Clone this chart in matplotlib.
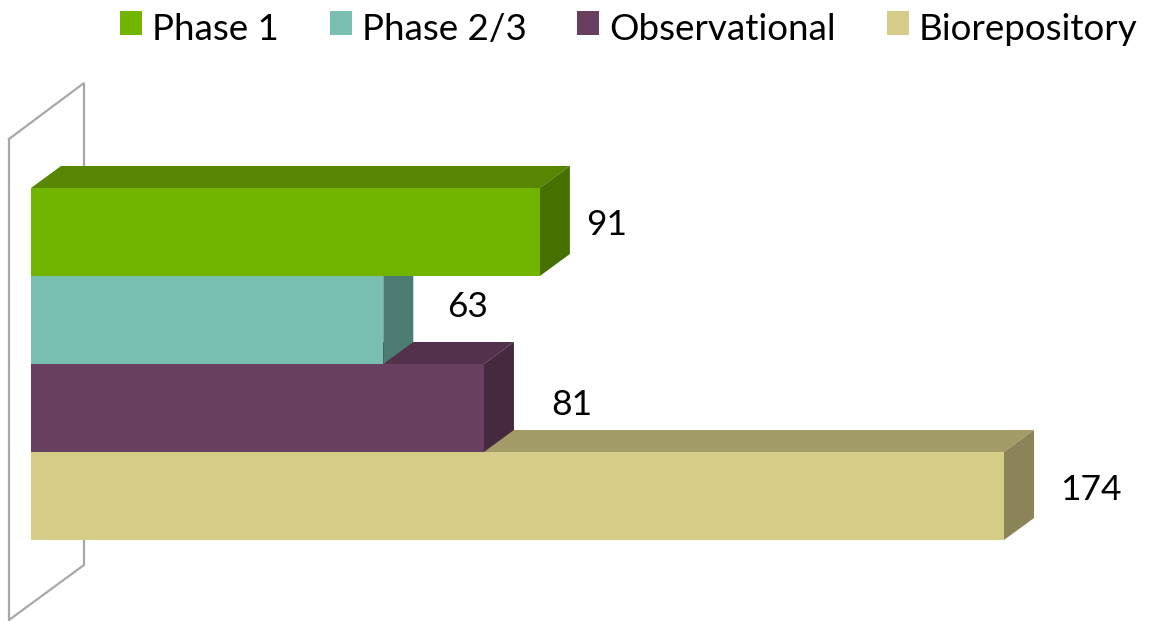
import matplotlib
matplotlib.use("Agg")
import matplotlib.pyplot as plt
from matplotlib.legend_handler import HandlerPatch
from matplotlib.patches import Patch, Polygon, Rectangle

categories = ["Phase 1", "Phase 2/3", "Observational", "Biorepository"]
values = [91, 63, 81, 174]

front_colors = ["#72b500", "#78bfb1", "#683f5f", "#d4cc87"]
top_colors = ["#588600", "#5c9488", "#53304b", "#a39c66"]
side_colors = ["#467000", "#4d7c72", "#45293f", "#8a8458"]

# label offsets from the end of each bar, in pixels
label_dx = [67, 84, 88, 87]
label_dy = [7, 13, 3, 6]

W, H = 1150, 621
x_scale = 5.592  # px per unit
y_scale = 88  # px per bar
x_zero = 31
y_first = 232
depth_x = 30 / x_scale
depth_y = -22 / y_scale

plt.rcParams['font.family'] = ['Lato', 'DejaVu Sans']

fig = plt.figure(figsize=(W/100, H/100), dpi=100)
ax = fig.add_axes([0, 0, 1, 1])
ax.set_xlim(-x_zero/x_scale, (W-x_zero)/x_scale)
ax.set_ylim((H-y_first)/y_scale, -y_first/y_scale)
ax.axis("off")

# the wall behind the bars
wall_x = [-22/x_scale, -22/x_scale, 53/x_scale, 53/x_scale, -22/x_scale]
wall_y = [(139-y_first)/y_scale, (620-y_first)/y_scale, (565-y_first)/y_scale,
          (83-y_first)/y_scale, (139-y_first)/y_scale]
ax.plot(wall_x, wall_y, color="#a8a8a8", lw=1.6, zorder=1, clip_on=False, solid_joinstyle="miter")

# lowest bar first so the upper ones cover its top face
for i in reversed(range(len(values))):
    v = values[i]
    z = 10 + (len(values)-i)*3
    top = i - 0.5
    bottom = i + 0.5
    ax.add_patch(Polygon([(0, top), (depth_x, top+depth_y), (v+depth_x, top+depth_y), (v, top)],
                         facecolor=top_colors[i], edgecolor="none", zorder=z))
    ax.add_patch(Polygon([(v, top), (v+depth_x, top+depth_y), (v+depth_x, bottom+depth_y), (v, bottom)],
                         facecolor=side_colors[i], edgecolor="none", zorder=z+1))
    ax.barh(i, v, height=1, color=front_colors[i], zorder=z+2)
    ax.annotate(str(v), (v, i), xytext=(label_dx[i]*0.72, label_dy[i]*0.72), textcoords="offset points",
                ha="center", va="center", fontsize=25.5, color="black", zorder=30)


# legend squares sit a bit higher than the text
def raised_square(legend, orig_handle, xdescent, ydescent, width, height, fontsize):
    return Rectangle((-xdescent, -ydescent+3), width, height)


handles = [Patch(facecolor=c, edgecolor="none") for c in front_colors]
fig.legend(handles, categories, loc="upper left", bbox_to_anchor=(109/W, 1 - 2/H), ncol=4, frameon=False,
           fontsize=26.5, handlelength=0.6, handleheight=0.6, handletextpad=0.27, columnspacing=1.38,
           borderpad=0.3, borderaxespad=0,
           handler_map={Patch: HandlerPatch(patch_func=raised_square)})

fig.savefig("out.png", dpi=100)
